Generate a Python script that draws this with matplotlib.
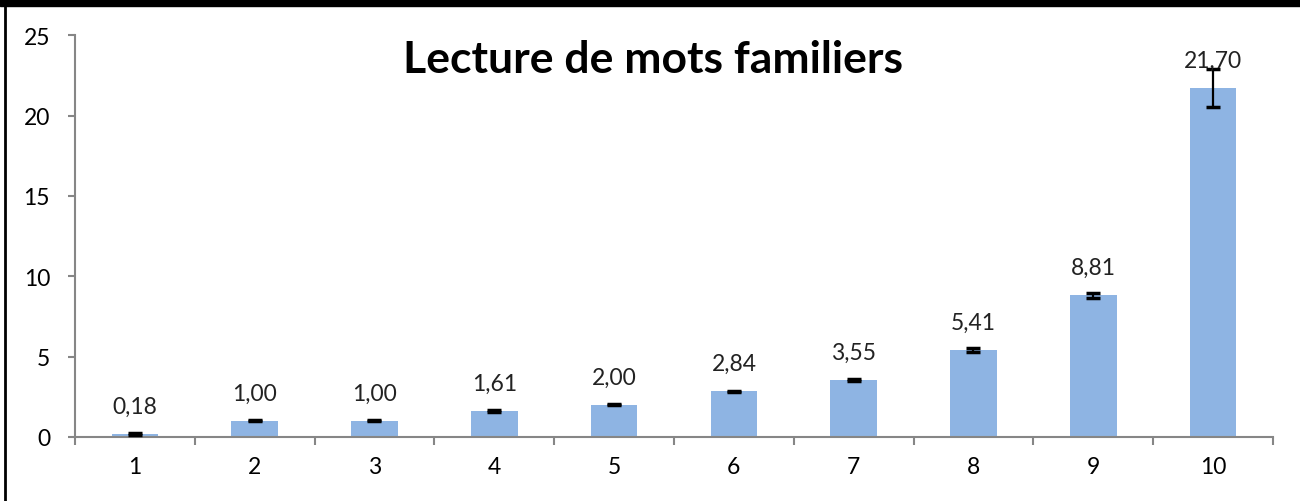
import matplotlib.pyplot as plt
from matplotlib.patches import Rectangle
from matplotlib.lines import Line2D

plt.rcParams['font.family'] = ['Lato', 'DejaVu Sans']

categories = ['1', '2', '3', '4', '5', '6', '7', '8', '9', '10']
values = [0.18, 1.00, 1.00, 1.61, 2.00, 2.84, 3.55, 5.41, 8.81, 21.70]
errors = [0.08, 0.03, 0.03, 0.07, 0.03, 0.05, 0.05, 0.12, 0.15, 1.2]
labels = ['0,18', '1,00', '1,00', '1,61', '2,00', '2,84', '3,55', '5,41', '8,81', '21,70']

bar_colour = '#8EB4E3'
axis_colour = '#868686'

fig = plt.figure(figsize=(13, 5.02), dpi=100)
ax = fig.add_axes([0.0577, 0.1275, 0.9215, 0.8005])

x = list(range(1, len(values) + 1))
ax.bar(x, values, width=0.39, color=bar_colour, zorder=2)
ax.errorbar(x, values, yerr=errors, fmt='none', ecolor='black',
            elinewidth=1.6, capsize=5, capthick=2.5, zorder=3)

for xi, v, lab in zip(x, values, labels):
    ax.annotate(lab, (xi, v), xytext=(0, 20), textcoords='offset points',
                ha='center', va='center', fontsize=16.5, color='#222222')

ax.set_xlim(0.5, 10.5)
ax.set_ylim(0, 25)
ax.set_yticks([0, 5, 10, 15, 20, 25])
ax.set_xticks(x)
ax.set_xticklabels(categories)
ax.set_xticks([i + 0.5 for i in range(0, 11)], minor=True)
ax.tick_params(axis='x', which='major', length=0, pad=14, labelsize=16.5)
ax.tick_params(axis='x', which='minor', length=6, width=1.5, color=axis_colour)
ax.tick_params(axis='y', length=5, width=1.5, color=axis_colour, pad=13, labelsize=16.5)

for side in ['top', 'right']:
    ax.spines[side].set_visible(False)
for side in ['left', 'bottom']:
    ax.spines[side].set_color(axis_colour)
    ax.spines[side].set_linewidth(1.5)

fig.text(0.502, 0.88, 'Lecture de mots familiers', ha='center', va='center',
         fontsize=32, fontweight='bold', color='black')

# black frame at the top and left
fig.patches.append(Rectangle((0, 0.986), 1, 0.014, transform=fig.transFigure,
                             color='black', zorder=5))
fig.lines.append(Line2D([0.0035, 0.0035], [0, 0.986], transform=fig.transFigure,
                        color='black', linewidth=2))

plt.savefig('out.png', dpi=100)
